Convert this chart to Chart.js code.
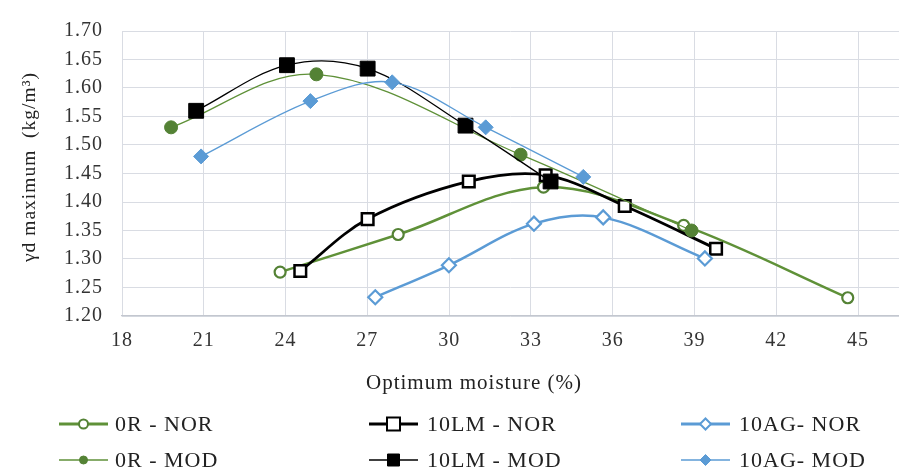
<!DOCTYPE html>
<html><head><meta charset="utf-8">
<script src="https://cdn.jsdelivr.net/npm/chart.js@4.4.1/dist/chart.umd.min.js"></script>
<style>html,body{margin:0;padding:0;background:#fff;}</style>
</head><body>
<canvas id="c" width="899" height="470"></canvas>
<script>
// ---- data ----
const seriesNames = ['0R - NOR', '10LM - NOR', '10AG- NOR', '0R - MOD', '10LM - MOD', '10AG- MOD'];
const r0NorX   = [23.80, 28.13, 33.46, 38.60, 44.62];
const r0NorY   = [1.277, 1.343, 1.426, 1.359, 1.232];
const lm10NorX = [24.54, 27.01, 30.72, 33.54, 36.44, 39.79];
const lm10NorY = [1.279, 1.370, 1.436, 1.447, 1.393, 1.318];
const ag10NorX = [27.29, 29.99, 33.11, 35.65, 39.38];
const ag10NorY = [1.233, 1.289, 1.362, 1.373, 1.301];
const r0ModX   = [19.80, 25.13, 32.62, 38.89];
const r0ModY   = [1.531, 1.624, 1.483, 1.350];
const lm10ModX = [20.72, 24.05, 27.01, 30.60, 33.72];
const lm10ModY = [1.560, 1.640, 1.634, 1.534, 1.436];
const ag10ModX = [20.90, 24.91, 27.91, 31.34, 34.92];
const ag10ModY = [1.480, 1.577, 1.610, 1.531, 1.444];
const xTicks = [18, 21, 24, 27, 30, 33, 36, 39, 42, 45];
const yTicks = [1.20, 1.25, 1.30, 1.35, 1.40, 1.45, 1.50, 1.55, 1.60, 1.65, 1.70];
const xTitle = 'Optimum moisture (%)';
const yTitle = 'γd maximum  (kg/m³)';

const GREEN = '#548235', GREEN_LINE = '#5f9138', BLUE = '#5B9BD5', BLACK = '#000000';
const FONT = '"Liberation Serif", "Times New Roman", serif';
const zip = (xs, ys) => xs.map((x, i) => ({x, y: ys[i]}));

const styles = [
  {color: GREEN_LINE, mk: GREEN, style: 'circle', r: 5.5, bw: 2.2, fill: '#fff', lw: 2.5, lr: 4.5},
  {color: BLACK, mk: BLACK, style: 'rect', r: 8.2, bw: 2.5, fill: '#fff', lw: 2.8, lr: 6.5},
  {color: BLUE, mk: BLUE, style: 'rectRot', r: 7, bw: 2.2, fill: '#fff', lw: 2.5, lr: 5.5},
  {color: GREEN_LINE, mk: GREEN, style: 'circle', r: 6.5, bw: 1, fill: GREEN, lw: 1.3, lr: 4},
  {color: BLACK, mk: BLACK, style: 'rect', r: 10.5, bw: 1, fill: BLACK, lw: 1.3, lr: 6},
  {color: BLUE, mk: BLUE, style: 'rectRot', r: 7.5, bw: 1, fill: BLUE, lw: 1.3, lr: 5.5},
];
const seriesData = [
  zip(r0NorX, r0NorY), zip(lm10NorX, lm10NorY), zip(ag10NorX, ag10NorY),
  zip(r0ModX, r0ModY), zip(lm10ModX, lm10ModY), zip(ag10ModX, ag10ModY)
];

const datasets = seriesNames.map((name, i) => {
  const s = styles[i];
  return {
    label: name, data: seriesData[i], showLine: true, tension: 0.35,
    borderColor: s.color, borderWidth: s.lw,
    pointStyle: s.style, pointRadius: s.r, pointHoverRadius: s.r,
    pointBackgroundColor: s.fill, pointBorderColor: s.mk, pointBorderWidth: s.bw,
    order: 5 - i
  };
});

function drawMarker(ctx, s, x, y, r) {
  ctx.save();
  ctx.fillStyle = s.fill; ctx.strokeStyle = s.mk; ctx.lineWidth = s.bw > 1.5 ? 2 : 1;
  ctx.beginPath();
  if (s.style === 'circle') ctx.arc(x, y, r, 0, Math.PI * 2);
  else if (s.style === 'rect') ctx.rect(x - r, y - r, 2 * r, 2 * r);
  else { ctx.moveTo(x, y - r); ctx.lineTo(x + r, y); ctx.lineTo(x, y + r); ctx.lineTo(x - r, y); ctx.closePath(); }
  ctx.fill(); ctx.stroke();
  ctx.restore();
}

const spacing = {
  id: 'spacing',
  beforeUpdate(chart) { chart.ctx.letterSpacing = '1px'; },
  beforeDraw(chart) { chart.ctx.letterSpacing = '1px'; }
};

// stretch the plot area to the right edge of the canvas, as in the reference
const fullRight = {
  id: 'fullRight',
  afterLayout(chart) {
    const R = chart.width;
    const ca = chart.chartArea, x = chart.scales.x;
    ca.right = R; ca.width = R - ca.left;
    x.right = R; x.width = R - x.left;
    x.configure();
  }
};

const legendAndTitles = {
  id: 'legendAndTitles',
  afterDraw(chart) {
    const ctx = chart.ctx;
    ctx.save();
    ctx.letterSpacing = '1px';
    ctx.fillStyle = '#222';
    ctx.textBaseline = 'middle';
    // axis titles
    ctx.font = '21px ' + FONT;
    ctx.textAlign = 'center';
    ctx.fillText(xTitle, 474, 383);
    ctx.save();
    ctx.font = '19.5px ' + FONT;
    ctx.translate(30, 167);
    ctx.rotate(-Math.PI / 2);
    ctx.fillText(yTitle, 0, 0);
    ctx.restore();
    // legend
    const colX = [59, 369, 681], textX = [115, 427, 739], rowY = [424, 460];
    ctx.font = '22px ' + FONT;
    ctx.textAlign = 'left';
    seriesNames.forEach((name, i) => {
      const s = styles[i];
      const x0 = colX[i % 3], y = rowY[Math.floor(i / 3)];
      ctx.strokeStyle = s.color; ctx.lineWidth = i < 3 ? 2.8 : 1.6;
      ctx.beginPath(); ctx.moveTo(x0, y); ctx.lineTo(x0 + 49, y); ctx.stroke();
      drawMarker(ctx, s, x0 + 24.5, y, s.lr);
      ctx.fillStyle = '#222';
      ctx.fillText(name, textX[i % 3], y + 1);
    });
    ctx.restore();
  }
};

new Chart(document.getElementById('c'), {
  type: 'scatter',
  data: {datasets},
  options: {
    responsive: false, animation: false, devicePixelRatio: 1,
    layout: {padding: {top: 17, right: 0, bottom: 90, left: 0}},
    plugins: {legend: {display: false}, tooltip: {enabled: false}},
    scales: {
      x: {
        type: 'linear', min: 18, max: 46.5,
        afterBuildTicks: sc => { sc.ticks = xTicks.map(v => ({value: v})); },
        afterFit: sc => { sc.height = 470 - 90 - 316; },
        grid: {color: '#D9DCE3', lineWidth: 1, drawTicks: false},
        border: {color: '#C3C7CF', width: 1.2},
        ticks: {font: {family: FONT, size: 20}, color: '#333', padding: 13, maxRotation: 0, autoSkip: false}
      },
      y: {
        type: 'linear', min: 1.2, max: 1.7,
        afterBuildTicks: sc => { sc.ticks = yTicks.map(v => ({value: v})); },
        afterFit: sc => { sc.width = 122; },
        grid: {color: '#D9DCE3', lineWidth: 1, drawTicks: false},
        border: {display: false},
        ticks: {font: {family: FONT, size: 20}, color: '#333', padding: 19, callback: v => v.toFixed(2), autoSkip: false}
      }
    }
  },
  plugins: [spacing, fullRight, legendAndTitles]
});
</script>
</body></html>
